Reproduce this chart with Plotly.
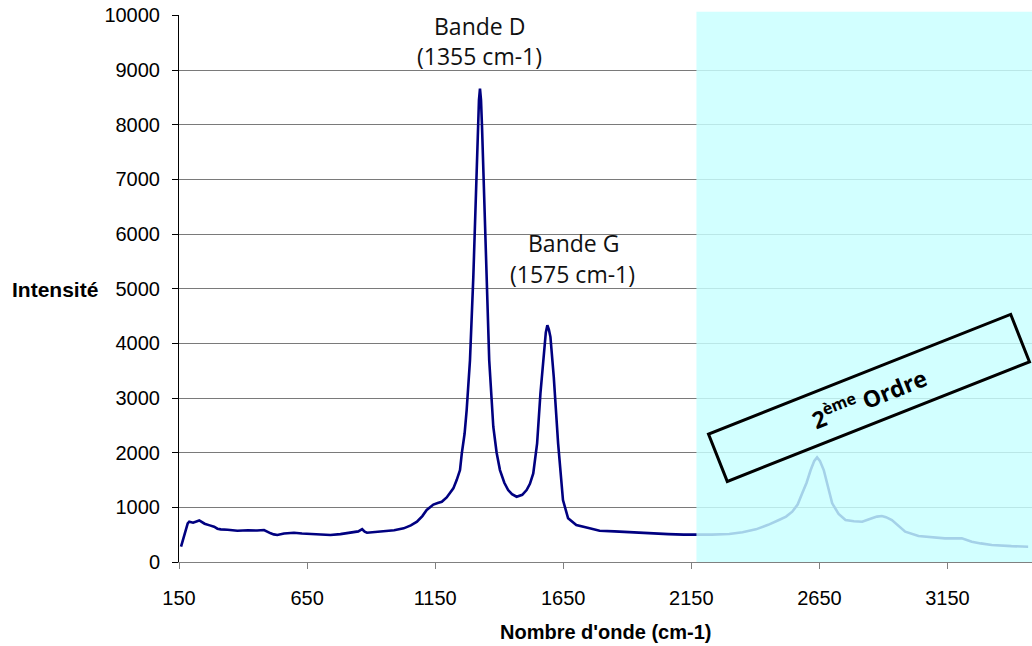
import plotly.graph_objects as go

# Raman spectrum
wavenumber = [
    158, 172, 184, 190, 205, 229, 250, 270, 287, 300,
    313, 340, 378, 420, 455, 482, 495, 508, 520, 534,
    560, 599, 630, 664, 700, 741, 780, 819, 850, 865,
    875, 884, 910, 949, 990, 1027, 1055, 1079, 1100, 1117,
    1130, 1143, 1160, 1176, 1195, 1208, 1221, 1234, 1247, 1254,
    1265, 1273, 1286, 1299, 1310, 1316, 1321, 1325, 1329, 1333,
    1341, 1351, 1361, 1377, 1390, 1403, 1420, 1435, 1450, 1468,
    1490, 1507, 1520, 1533, 1548, 1561, 1574, 1582, 1588, 1594,
    1600, 1613, 1630, 1649, 1669, 1701, 1753, 1792, 1850, 1900,
    1948, 2000, 2060, 2120, 2171, 2230, 2298, 2350, 2402, 2450,
    2492, 2520, 2544, 2565, 2583, 2600, 2616, 2630, 2641, 2652,
    2667, 2685, 2700, 2725, 2752, 2785, 2817, 2855, 2875, 2894,
    2910, 2933, 2960, 2985, 3037, 3090, 3140, 3206, 3245, 3280,
    3323, 3400, 3465,
]
intensity = [
    280, 520, 707, 737, 720, 760, 700, 670, 645, 610,
    597, 590, 572, 580, 575, 585, 550, 524, 505, 494,
    520, 536, 520, 512, 505, 494, 510, 536, 560, 600,
    555, 536, 545, 554, 580, 616, 670, 737, 840, 951,
    1010, 1050, 1080, 1102, 1180, 1256, 1347, 1499, 1682, 1987,
    2350, 2779, 3693, 5215, 6740, 7958, 8450, 8660, 8450, 7958,
    6740, 4912, 3693, 2474, 2000, 1682, 1450, 1316, 1240, 1194,
    1230, 1316, 1430, 1621, 2170, 3084, 3875, 4200, 4332, 4250,
    4119, 3387, 2170, 1133, 799, 676, 616, 572, 560, 545,
    530, 520, 510, 500, 494, 500, 512, 545, 597, 680,
    768, 830, 920, 1050, 1256, 1450, 1682, 1850, 1914, 1850,
    1682, 1350, 1073, 880, 768, 745, 737, 799, 830, 841,
    820, 768, 650, 554, 475, 450, 433, 433, 371, 340,
    311, 290, 280,
]

x_ticks = [150, 650, 1150, 1650, 2150, 2650, 3150]
y_ticks = [0, 1000, 2000, 3000, 4000, 5000, 6000, 7000, 8000, 9000, 10000]
x_range = [150, 3480]
y_range = [0, 10006]
second_order_start = 2170

FONT = "Liberation Sans, Arial, sans-serif"
LABEL_FONT = "Open Sans, Noto Sans, sans-serif"

fig = go.Figure()
fig.add_trace(go.Scatter(
    x=wavenumber, y=intensity, mode="lines",
    line=dict(color="#000080", width=2.6),
    showlegend=False, hoverinfo="skip",
))

# second order region (semi-transparent cyan drawn above the data)
fig.add_shape(
    type="rect", xref="x", yref="paper",
    x0=second_order_start, x1=x_range[1], y0=0, y1=1.006,
    fillcolor="rgba(200,255,255,0.82)", line=dict(width=0), layer="above",
)

ann = []
ann.append(dict(x=1325, y=9800, xref="x", yref="y", text="Bande D", showarrow=False,
                font=dict(family=LABEL_FONT, size=23, color="#111"), xanchor="center", yanchor="middle"))
ann.append(dict(x=1325, y=9250, xref="x", yref="y", text="(1355 cm-1)", showarrow=False,
                font=dict(family=LABEL_FONT, size=23, color="#111"), xanchor="center", yanchor="middle"))
ann.append(dict(x=1690, y=5830, xref="x", yref="y", text="Bande G", showarrow=False,
                font=dict(family=LABEL_FONT, size=23, color="#111"), xanchor="center", yanchor="middle"))
ann.append(dict(x=1688, y=5270, xref="x", yref="y", text="(1575 cm-1)", showarrow=False,
                font=dict(family=LABEL_FONT, size=23, color="#111"), xanchor="center", yanchor="middle"))
ann.append(dict(x=2843, y=3000, xref="x", yref="y",
                text="<b>2<sup>ème</sup> Ordre</b>", showarrow=False,
                font=dict(family=LABEL_FONT, size=23, color="#000"),
                textangle=-21.6, bordercolor="#000", borderwidth=3, borderpad=2,
                width=318, height=44, align="center", valign="middle",
                xanchor="center", yanchor="middle"))
ann.append(dict(x=0, y=0.499, xref="paper", yref="paper", text="<b>Intensité</b>",
                showarrow=False, xanchor="right", yanchor="middle", xshift=-79,
                font=dict(family=FONT, size=21, color="#000")))
ann.append(dict(x=0.5, y=0, xref="paper", yref="paper", text="<b>Nombre d'onde (cm-1)</b>",
                showarrow=False, xanchor="center", yanchor="top", yshift=-57,
                font=dict(family=FONT, size=20, color="#000")))

fig.update_layout(
    width=1032, height=646,
    margin=dict(l=179, r=0, t=15, b=84),
    paper_bgcolor="white", plot_bgcolor="white",
    annotations=ann,
    font=dict(family=FONT, color="#000"),
)
fig.update_xaxes(
    range=x_range, tickvals=x_ticks, ticktext=[str(v) for v in x_ticks],
    ticks="outside", ticklen=6, tickcolor="#808080", tickwidth=1,
    showline=True, linecolor="#808080", linewidth=1,
    showgrid=False, zeroline=False,
    tickfont=dict(family=FONT, size=20, color="#000"), ticklabelstandoff=12,
)
fig.update_yaxes(
    range=y_range, tickvals=y_ticks, ticktext=[str(v) for v in y_ticks],
    ticks="outside", ticklen=6, tickcolor="#000", tickwidth=1,
    showline=True, linecolor="#000", linewidth=1,
    showgrid=True, gridcolor="#7a7a7a", gridwidth=1, zeroline=False,
    tickfont=dict(family=FONT, size=20, color="#000"), ticklabelstandoff=8,
    ticklabeloverflow="allow",
)

fig.write_html(
    "out.html",
    config={"displayModeBar": False},
    post_script="document.body.style.margin='0';document.body.style.overflow='hidden';",
)
